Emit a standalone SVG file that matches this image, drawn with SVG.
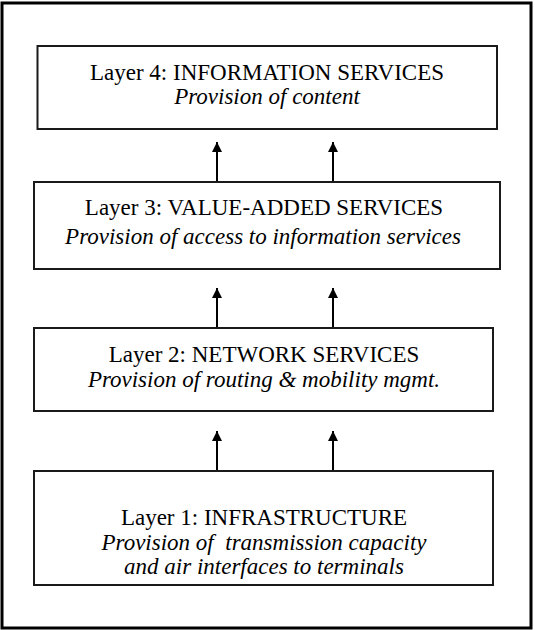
<svg xmlns="http://www.w3.org/2000/svg" width="535" height="630" viewBox="0 0 535 630">
  <defs>
    <style>
      .frame { fill: none; stroke: #000; stroke-width: 3; }
      .box { fill: #fff; stroke: #1a1a1a; stroke-width: 2; }
      .title { font-family: "Liberation Serif", "Times New Roman", serif; font-size: 23px; fill: #000; text-anchor: middle; }
      .sub { font-family: "Liberation Serif", "Times New Roman", serif; font-size: 23px; font-style: italic; fill: #000; text-anchor: middle; }
      .arrow { stroke: #000; stroke-width: 2; fill: none; }
    </style>
    <marker id="head" viewBox="0 0 10 10" refX="10" refY="5" markerWidth="10" markerHeight="11" markerUnits="userSpaceOnUse" orient="auto">
      <path d="M0,0 L10,5 L0,10 Z" fill="#000"/>
    </marker>
  </defs>

  <rect width="535" height="630" fill="#fff"/>
  <!-- outer frame -->
  <rect class="frame" x="2" y="3" width="529" height="625"/>

  <!-- connectors between layers -->
  <g id="connectors">
    <line class="arrow" x1="217" y1="182" x2="217" y2="142" marker-end="url(#head)"/>
    <line class="arrow" x1="333" y1="182" x2="333" y2="142" marker-end="url(#head)"/>
    <line class="arrow" x1="217" y1="328" x2="217" y2="288" marker-end="url(#head)"/>
    <line class="arrow" x1="333" y1="328" x2="333" y2="288" marker-end="url(#head)"/>
    <line class="arrow" x1="217" y1="471" x2="217" y2="431" marker-end="url(#head)"/>
    <line class="arrow" x1="333" y1="471" x2="333" y2="431" marker-end="url(#head)"/>
  </g>

  <g id="layer4">
    <rect class="box" x="37.5" y="46" width="459.5" height="83"/>
    <text class="title" x="267" y="80">Layer 4: INFORMATION SERVICES</text>
    <text class="sub" x="267" y="104">Provision of content</text>
  </g>

  <g id="layer3">
    <rect class="box" x="34" y="182" width="466" height="87"/>
    <text class="title" x="264" y="215">Layer 3: VALUE-ADDED SERVICES</text>
    <text class="sub" x="263" y="244">Provision of access to information services</text>
  </g>

  <g id="layer2">
    <rect class="box" x="34" y="328" width="459" height="83"/>
    <text class="title" x="264" y="362">Layer 2: NETWORK SERVICES</text>
    <text class="sub" x="264" y="387">Provision of routing &amp; mobility mgmt.</text>
  </g>

  <g id="layer1">
    <rect class="box" x="34" y="471" width="459" height="114"/>
    <text class="title" x="264" y="525">Layer 1: INFRASTRUCTURE</text>
    <text class="sub" x="264" y="550" xml:space="preserve">Provision of  transmission capacity</text>
    <text class="sub" x="264" y="574">and air interfaces to terminals</text>
  </g>
</svg>
